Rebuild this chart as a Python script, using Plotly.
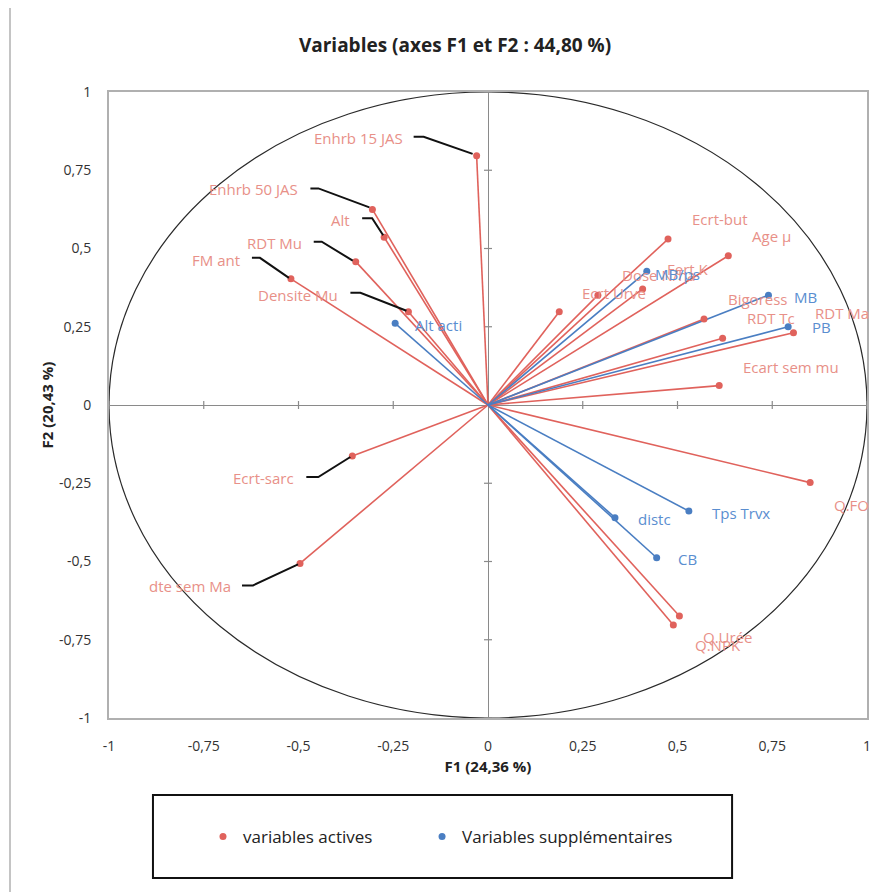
import plotly.graph_objects as go

# ---------------- data ----------------
ACT_NAMES = ["Enhrb 15 JAS", "Enhrb 50 JAS", "Alt", "RDT Mu", "FM ant", "Densite Mu",
             "Ecrt-sarc", "dte sem Ma", "Ecrt-but", "Age µ", "Ecrt Urve", "Dose N/ha",
             "Fert K", "Bigoress", "RDT Tc", "RDT Ma", "Ecart sem mu", "Q.FO",
             "Q.Urée", "Q.NPK"]
ACT_F1 = [-0.030, -0.305, -0.274, -0.349, -0.520, -0.210,
          -0.358, -0.496, 0.475, 0.634, 0.188, 0.290,
          0.408, 0.570, 0.619, 0.806, 0.610, 0.850,
          0.505, 0.489]
ACT_F2 = [0.796, 0.625, 0.536, 0.458, 0.403, 0.298,
          -0.163, -0.506, 0.530, 0.477, 0.298, 0.351,
          0.371, 0.275, 0.213, 0.231, 0.062, -0.248,
          -0.674, -0.703]

SUP_NAMES = ["Alt acti", "MB/ps", "MB", "PB", "Tps Trvx", "distc", "CB"]
SUP_F1 = [-0.245, 0.419, 0.740, 0.792, 0.530, 0.335, 0.445]
SUP_F2 = [0.261, 0.427, 0.351, 0.250, -0.339, -0.360, -0.488]

TICK_VALS = [-1, -0.75, -0.5, -0.25, 0, 0.25, 0.5, 0.75, 1]
TICK_TEXT = ["-1", "-0,75", "-0,5", "-0,25", "0", "0,25", "0,5", "0,75", "1"]

TITLE = "Variables (axes F1 et F2 : 44,80 %)"
XTITLE = "F1 (24,36 %)"
YTITLE = "F2 (20,43 %)"
LEG_ACT = "variables actives"
LEG_SUP = "Variables supplémentaires"

# ---------------- label placement (pixels, x right / y up) ----------------
# name: (xshift, yshift, anchor, leader path or None)
LABEL_POS = {
    "Enhrb 15 JAS": (-72, 18, "right", [(-63, 19), (-53, 19), (-4, 2)]),
    "Enhrb 50 JAS": (-72, 20, "right", [(-62, 21), (-54, 21), (-3, 2)]),
    "Alt": (-32, 17, "right", [(-22, 19), (-12, 19), (-1, 2)]),
    "RDT Mu": (-52, 19, "right", [(-42, 20), (-34, 20), (-3, 1)]),
    "FM ant": (-49, 19, "right", [(-39, 21), (-31, 21), (-2, 1)]),
    "Densite Mu": (-68, 17, "right", [(-58, 19), (-48, 19), (-2, 1)]),
    "Ecrt-sarc": (-56, -22, "right", [(-46, -21), (-34, -21), (-2, -1)]),
    "dte sem Ma": (-67, -23, "right", [(-58, -22), (-47, -22), (-2, -1)]),
    "Ecrt-but": (22, 20, "left", None),
    "Age µ": (22, 20, "left", None),
    "Ecrt Urve": (21, 19, "left", None),
    "Dose N/ha": (22, 20, "left", None),
    "Fert K": (22, 20, "left", None),
    "Bigoress": (22, 20, "left", None),
    "RDT Tc": (22, 20, "left", None),
    "RDT Ma": (20, 20, "left", None),
    "Ecart sem mu": (22, 19, "left", None),
    "Q.FO": (22, -22, "left", None),
    "Q.Urée": (22, -21, "left", None),
    "Q.NPK": (20, -20, "left", None),
    "Alt acti": (18, -2, "left", None),
    "MB/ps": (6, -3, "left", None),
    "MB": (24, -2, "left", None),
    "PB": (22, 0, "left", None),
    "Tps Trvx": (21, -2, "left", None),
    "distc": (21, -1, "left", None),
    "CB": (19, -1, "left", None),
}

RED = "#E0625C"
RED_TXT = "#E89088"
BLUE = "#4A7EC2"
BLUE_TXT = "#5A8ED0"
FONT = "Open Sans"


def spokes(xs, ys):
    lx, ly = [], []
    for a, b in zip(xs, ys):
        lx += [0, a, None]
        ly += [0, b, None]
    return lx, ly


fig = go.Figure()
ax_, ay_ = spokes(ACT_F1, ACT_F2)
sx_, sy_ = spokes(SUP_F1, SUP_F2)
fig.add_trace(go.Scatter(x=ax_, y=ay_, mode="lines", line=dict(color=RED, width=1.6),
                         showlegend=False, hoverinfo="skip"))
fig.add_trace(go.Scatter(x=sx_, y=sy_, mode="lines", line=dict(color=BLUE, width=1.6),
                         showlegend=False, hoverinfo="skip"))
fig.add_trace(go.Scatter(x=ACT_F1, y=ACT_F2, mode="markers", name=LEG_ACT, text=ACT_NAMES,
                         marker=dict(color=RED, size=7), hoverinfo="text+x+y",
                         legend="legend"))
fig.add_trace(go.Scatter(x=SUP_F1, y=SUP_F2, mode="markers", name=LEG_SUP, text=SUP_NAMES,
                         marker=dict(color=BLUE, size=7), hoverinfo="text+x+y",
                         legend="legend2"))

shapes = []
# correlation circle
shapes.append(dict(type="circle", xref="x", yref="y", x0=-1, x1=1, y0=-1, y1=1,
                   line=dict(color="#2a2a2a", width=1.2), layer="below"))
# tick marks crossing the zero axes
for t in TICK_VALS:
    if t == 0:
        continue
    shapes.append(dict(type="line", xref="x", yref="y", x0=t, x1=t, ysizemode="pixel",
                       yanchor=0, y0=-4, y1=4, line=dict(color="#8a8a8a", width=1.2),
                       layer="below"))
    shapes.append(dict(type="line", xref="x", yref="y", y0=t, y1=t, xsizemode="pixel",
                       xanchor=0, x0=-4, x1=4, line=dict(color="#8a8a8a", width=1.2),
                       layer="below"))

annotations = []
all_pts = [(n, x, y, RED_TXT) for n, x, y in zip(ACT_NAMES, ACT_F1, ACT_F2)] + \
          [(n, x, y, BLUE_TXT) for n, x, y in zip(SUP_NAMES, SUP_F1, SUP_F2)]
for n, x, y, col in all_pts:
    dx, dy, anc, leader = LABEL_POS[n]
    annotations.append(dict(x=x, y=y, xref="x", yref="y", text=n, showarrow=False,
                            xanchor=anc, yanchor="middle", xshift=dx, yshift=dy,
                            font=dict(family=FONT, size=15, color=col)))
    if leader:
        path = "M " + " L ".join(f"{px},{py}" for px, py in leader)
        shapes.append(dict(type="path", xref="x", yref="y", xsizemode="pixel",
                           ysizemode="pixel", xanchor=x, yanchor=y, path=path,
                           line=dict(color="#111111", width=2)))

# legend box and outer chart frame (paper coords)
shapes.append(dict(type="rect", xref="paper", yref="paper", x0=0.058, x1=0.822,
                   y0=-0.2556, y1=-0.123, line=dict(color="#111111", width=2)))
shapes.append(dict(type="rect", xref="paper", yref="paper", x0=-0.1306, x1=1.05,
                   y0=-0.285, y1=1.1358, line=dict(color="#c4c4c4", width=2)))

legend_common = dict(orientation="h", y=-0.19, xanchor="left", yanchor="middle",
                     xref="paper", yref="paper", bgcolor="rgba(0,0,0,0)",
                     font=dict(family=FONT, size=17, color="#222222"))

# page body has an 8px margin, so the figure is 884 px and sits at (8, 8)
fig.update_layout(
    width=884, height=884,
    margin=dict(l=101, r=25, t=84, b=174),
    paper_bgcolor="white", plot_bgcolor="white",
    title=dict(text=TITLE, x=(455 - 8) / 884, xref="container", xanchor="center",
               y=1 - (45 - 8) / 884, yref="container", yanchor="middle",
               font=dict(family=FONT, size=19, color="#222222", weight="bold")),
    shapes=shapes, annotations=annotations,
    showlegend=True,
    legend=dict(x=0.124, **legend_common),
    legend2=dict(x=0.413, **legend_common),
    font=dict(family=FONT, color="#333333"),
)
fig.update_xaxes(range=[-1, 1], tickvals=TICK_VALS, ticktext=TICK_TEXT, showgrid=False,
                 zeroline=True, zerolinecolor="#8a8a8a", zerolinewidth=1.2,
                 showline=True, mirror=True, linecolor="#b0b0b0", linewidth=2,
                 ticks="", ticklabelstandoff=14,
                 tickfont=dict(family=FONT, size=14, color="#333333"),
                 title=dict(text=XTITLE, standoff=8,
                            font=dict(family=FONT, size=15, color="#222222", weight="bold")))
fig.update_yaxes(range=[-1, 1], tickvals=TICK_VALS, ticktext=TICK_TEXT, showgrid=False,
                 zeroline=True, zerolinecolor="#8a8a8a", zerolinewidth=1.2,
                 showline=True, mirror=True, linecolor="#b0b0b0", linewidth=2,
                 ticks="", ticklabelstandoff=13,
                 tickfont=dict(family=FONT, size=14, color="#333333"),
                 title=dict(text=YTITLE, standoff=2,
                            font=dict(family=FONT, size=15, color="#222222", weight="bold")))

fig.write_html("out.html")
